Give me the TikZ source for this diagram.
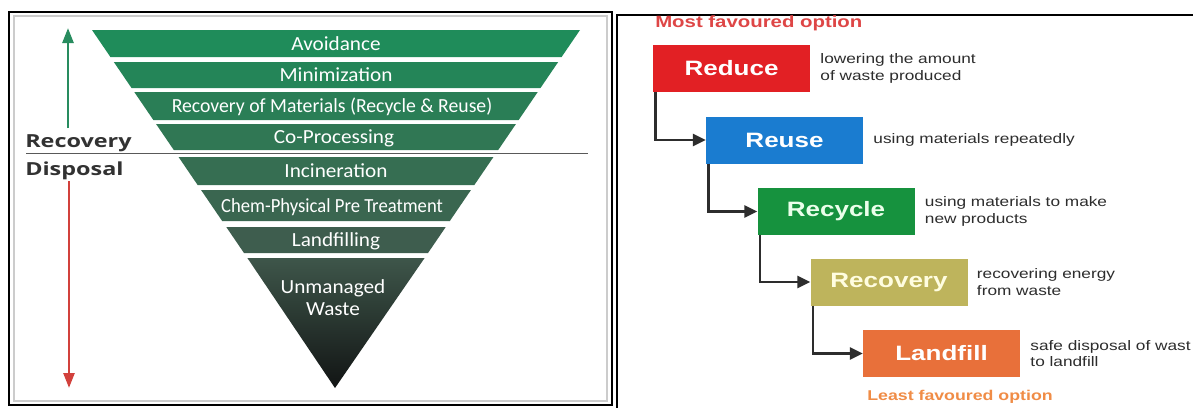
\documentclass[tikz,border=0pt]{standalone}
\usepackage{fontspec}
\usepackage{graphicx}
\setmainfont{Liberation Sans}
\newfontfamily\bandfont{Carlito}
\newfontfamily\labfont{Open Sans}
\usetikzlibrary{arrows.meta,calc}
\definecolor{bandA}{RGB}{31,140,90}
\definecolor{bandB}{RGB}{36,133,88}
\definecolor{bandC}{RGB}{42,126,86}
\definecolor{bandD}{RGB}{48,119,84}
\definecolor{bandE}{RGB}{54,110,82}
\definecolor{bandF}{RGB}{58,102,80}
\definecolor{bandG}{RGB}{62,93,78}
\definecolor{bandHtop}{RGB}{62,86,74}
\definecolor{bandHbot}{RGB}{18,20,20}
\definecolor{upgreen}{RGB}{40,140,95}
\definecolor{downred}{RGB}{210,65,60}
\definecolor{labgray}{RGB}{50,50,50}
\definecolor{cReduce}{RGB}{226,32,36}
\definecolor{cReuse}{RGB}{26,124,208}
\definecolor{cRecycle}{RGB}{22,146,62}
\definecolor{cRecovery}{RGB}{190,180,92}
\definecolor{cLandfill}{RGB}{232,112,58}
\definecolor{mostred}{RGB}{222,70,70}
\definecolor{leastorange}{RGB}{240,140,70}
\definecolor{desctxt}{RGB}{45,45,45}
\definecolor{conncol}{RGB}{45,45,45}
\newcommand{\wide}[1]{\scalebox{1.25}[1]{#1}}
\tikzset{
  bandtxt/.style={anchor=base, text=white, font=\bandfont\fontsize{20}{22}\selectfont, xscale=1.06, inner sep=0},
  sidelab/.style={anchor=base west, text=labgray, font=\labfont\bfseries\fontsize{18}{20}\selectfont, xscale=1.3, inner sep=0},
  stepbox/.style={minimum width=157pt, minimum height=47pt, inner sep=0, text=white, font=\bfseries\fontsize{20.8}{24}\selectfont},
  desc/.style={anchor=west, align=left, text=desctxt, font=\fontsize{13.8}{16.5}\selectfont, xscale=1.25, inner sep=0},
  conn/.style={draw=conncol, line width=2.6pt, -{Triangle[length=13pt,width=12pt]}},
  optlab/.style={font=\bfseries, xscale=1.25, inner sep=0}
}
\begin{document}
\begin{tikzpicture}[x=1pt,y=-1pt]
\useasboundingbox (0,0) rectangle (1193,407);
\fill[white] (0,0) rectangle (1193,407);
% ---------- left panel frame ----------
\draw[black, line width=1.4pt] (9,12) rectangle (612,405);
\draw[black!20, line width=1.5pt] (14,16) rectangle (607,401);
% ---------- inverted pyramid ----------
\foreach \ya/\yb/\col in {30/57/bandA, 62/88/bandB, 92/120/bandC, 124/150/bandD, 157/185/bandE, 190/221/bandF, 227/253/bandG}{
  \fill[\col] ({336-0.68156*(388-\ya)},\ya) -- ({336+0.68156*(388-\ya)},\ya)
    -- ({336+0.68156*(388-\yb)},\yb) -- ({336-0.68156*(388-\yb)},\yb) -- cycle;
}
\shade[top color=bandHtop, bottom color=bandHbot]
  ({336-0.68156*130},258) -- ({336+0.68156*130},258) -- (335,388) -- cycle;
\node[bandtxt] (avoid) at (336,50) {Avoidance};
\node[bandtxt] (minim) at (336,81.5) {Minimization};
\node[bandtxt, xscale=0.93] (recmat) at (332,112.5) {Recovery of Materials (Recycle \& Reuse)};
\node[bandtxt] (copro) at (334,143.5) {Co-Processing};
\node[bandtxt] (incin) at (336,177.5) {Incineration};
\node[bandtxt, xscale=0.88] (chem) at (332,212) {Chem-Physical Pre Treatment};
\node[bandtxt] (landf) at (336,246.5) {Landfilling};
\node[bandtxt] (unman) at (333,293) {Unmanaged};
\node[bandtxt] (waste) at (333,315) {Waste};
% ---------- side labels, divider, arrows ----------
\node[sidelab] (recov) at (25,147) {Recovery};
\node[sidelab] (dispo) at (25,175) {Disposal};
\coordinate (divL) at (26,153.5);
\coordinate (divR) at (588,153.5);
\draw[black!65, line width=1.6pt] (divL) -- (divR);
\coordinate (upS) at (68,128);
\coordinate (upE) at (68,28);
\coordinate (dnS) at (69,181);
\coordinate (dnE) at (69,388);
\draw[upgreen, line width=2.6pt, -{Triangle[length=15pt,width=11pt]}] (upS) -- (upE);
\draw[downred, line width=2.6pt, -{Triangle[length=15pt,width=11pt]}] (dnS) -- (dnE);
% ---------- right panel frame ----------
\draw[black, line width=1.4pt] (617,410) |- (1196,15);
% ---------- right panel ----------
\node[optlab, text=mostred, anchor=west, font=\bfseries\fontsize{16.3}{18}\selectfont] (most) at (655,23) {Most favoured option};
\node[stepbox, fill=cReduce] (reduce) at (731.5,68.5) {\wide{Reduce}};
\node[stepbox, fill=cReuse] (reuse) at (784.5,140) {\wide{Reuse}};
\node[stepbox, fill=cRecycle, text=green!8!white] (recycle) at (836,211.5) {\wide{Recycle}};
\node[stepbox, fill=cRecovery, text=yellow!12!white] (recovery) at (889,282) {\wide{Recovery}};
\node[stepbox, fill=cLandfill] (landfill) at (941.5,353.5) {\wide{Landfill}};
\draw[conn] ([xshift=2.5pt]reduce.south west) |- (reuse.west);
\draw[conn] ([xshift=2.5pt]reuse.south west) |- (recycle.west);
\draw[conn] ([xshift=2.5pt]recycle.south west) |- (recovery.west);
\draw[conn] ([xshift=2.5pt]recovery.south west) |- (landfill.west);
\node[desc] (dreduce) at ([xshift=10pt]reduce.east) {lowering the amount\\of waste produced};
\node[desc] (dreuse) at ([xshift=10pt]reuse.east) {using materials repeatedly};
\node[desc] (drecycle) at ([xshift=10pt]recycle.east) {using materials to make\\new products};
\node[desc] (drecovery) at ([xshift=9pt]recovery.east) {recovering energy\\from waste};
\node[desc] (dlandfill) at ([xshift=10pt]landfill.east) {safe disposal of wast\\to landfill};
\node[optlab, text=leastorange, font=\bfseries\fontsize{14.2}{16}\selectfont] (least) at (960,397) {Least favoured option};
\end{tikzpicture}
\end{document}
